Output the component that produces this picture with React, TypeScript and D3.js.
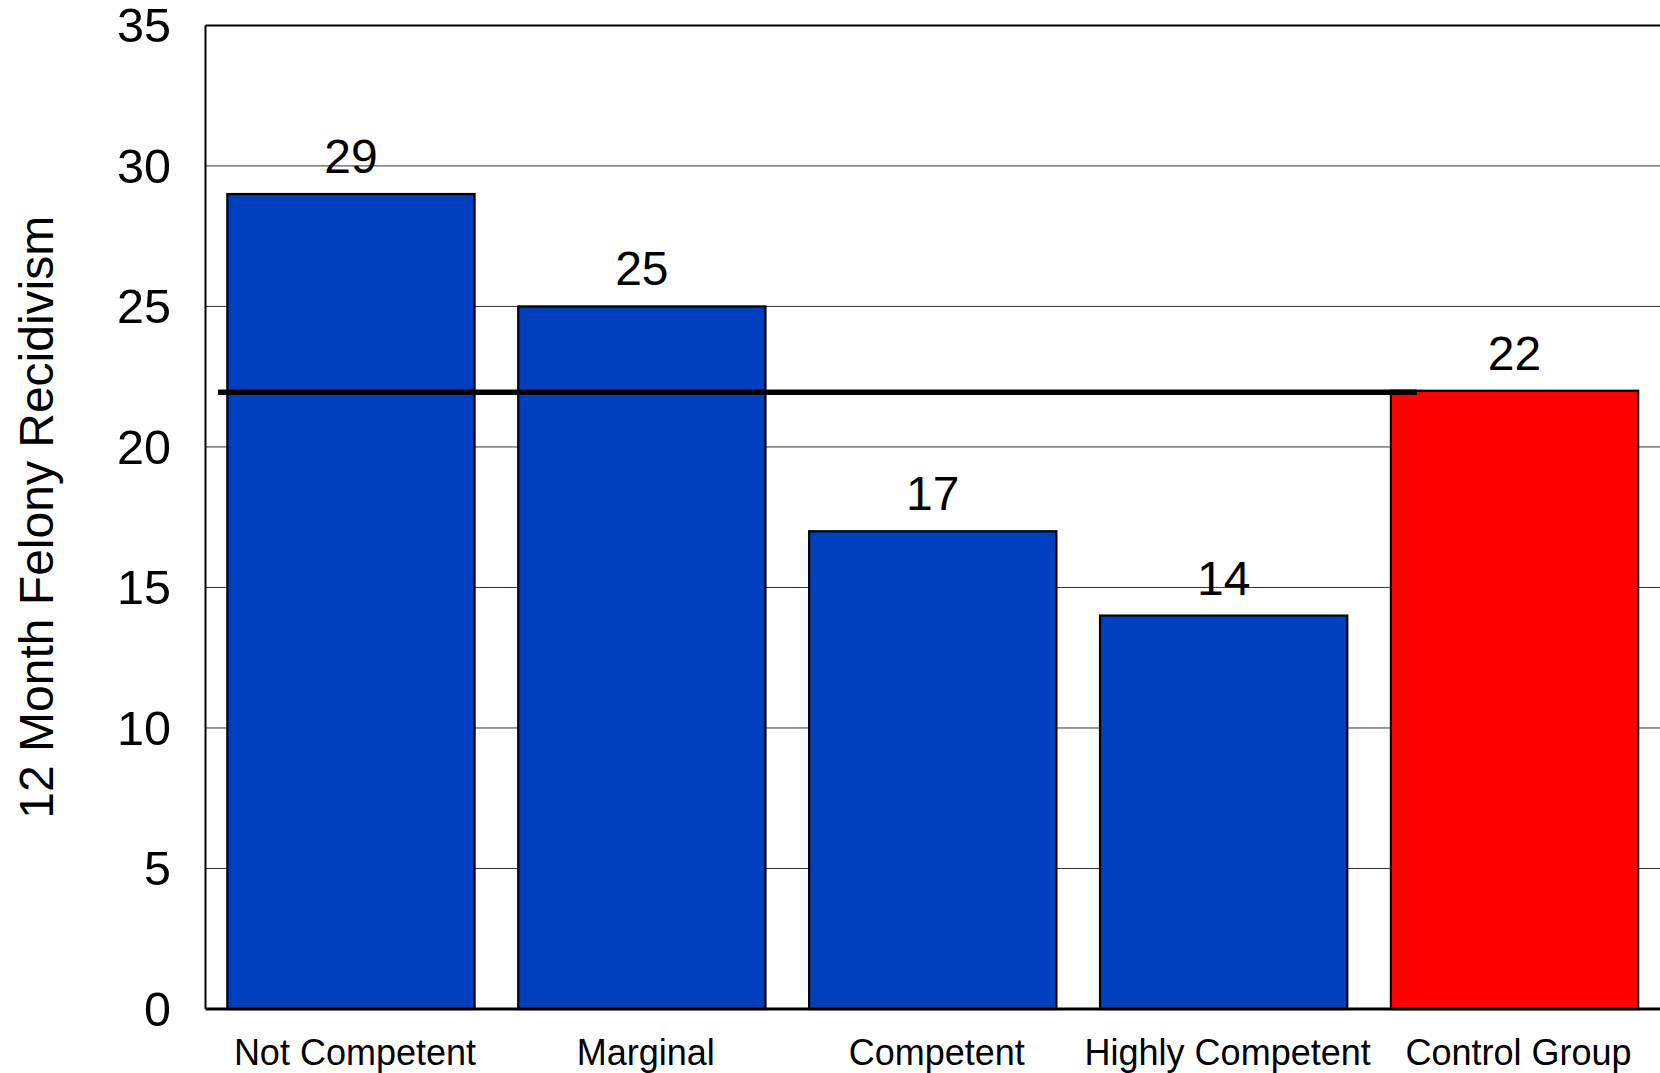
import React from "react";
import * as d3 from "d3";

const categories = ["Not Competent", "Marginal", "Competent", "Highly Competent", "Control Group"];
const values = [29, 25, 17, 14, 22];
const barColors = ["#0040BF", "#0040BF", "#0040BF", "#0040BF", "#FF0000"];
const yTicks = [0, 5, 10, 15, 20, 25, 30, 35];
const referenceValue = 22;
const yTitle = "12 Month Felony Recidivism";

const W = 1660;
const H = 1073;
const left = 205.5;
const right = 1660;
const top = 25.4;
const bottom = 1009;

export default function App() {
  const x = d3.scaleBand<string>().domain(categories).range([left, right]).paddingInner(0.15).paddingOuter(0.075);
  const y = d3.scaleLinear().domain([0, 35]).range([bottom, top]);
  const font = "Arial, 'Liberation Sans', sans-serif";
  const refX1 = 218;
  const refX2 = x("Control Group")! + 26;
  return (
    <svg width={W} height={H} style={{ position: "absolute", left: 0, top: 0, background: "#fff" }}>
      <rect x={0} y={0} width={W} height={H} fill="#fff" />
      {yTicks.filter((t) => t > 0 && t < 35).map((t) => (
        <line key={t} x1={left} x2={right} y1={y(t)} y2={y(t)} stroke="#333" strokeWidth={1} />
      ))}
      <line x1={left} x2={right} y1={y(35)} y2={y(35)} stroke="#000" strokeWidth={2} />
      <line x1={left} x2={left} y1={y(35)} y2={bottom} stroke="#000" strokeWidth={2} />
      {categories.map((c, i) => (
        <rect
          key={c}
          x={x(c)}
          y={y(values[i])}
          width={x.bandwidth()}
          height={bottom - y(values[i])}
          fill={barColors[i]}
          stroke="#000"
          strokeWidth={2.2}
        />
      ))}
      <line x1={left} x2={right} y1={bottom} y2={bottom} stroke="#000" strokeWidth={3} />
      <line x1={refX1} x2={refX2} y1={y(referenceValue) + 1.5} y2={y(referenceValue) + 1.5} stroke="#000" strokeWidth={5.5} />
      {categories.map((c, i) => (
        <text
          key={"v" + c}
          x={x(c)! + x.bandwidth() / 2}
          y={y(values[i]) - 21}
          textAnchor="middle"
          fontFamily={font}
          fontSize={48}
          fill="#000"
        >
          {values[i]}
        </text>
      ))}
      {yTicks.map((t) => (
        <text key={"t" + t} x={171} y={y(t) + 17} textAnchor="end" fontFamily={font} fontSize={48.5} fill="#000">
          {t}
        </text>
      ))}
      {categories.map((c) => (
        <text
          key={"c" + c}
          x={x(c)! + x.bandwidth() / 2 + 4}
          y={1065}
          textAnchor="middle"
          fontFamily={font}
          fontSize={36}
          fill="#000"
        >
          {c}
        </text>
      ))}
      <text
        transform={`translate(53, ${(top + bottom) / 2 + 0}) rotate(-90)`}
        textAnchor="middle"
        fontFamily={font}
        fontSize={48}
        fill="#000"
      >
        {yTitle}
      </text>
    </svg>
  );
}
